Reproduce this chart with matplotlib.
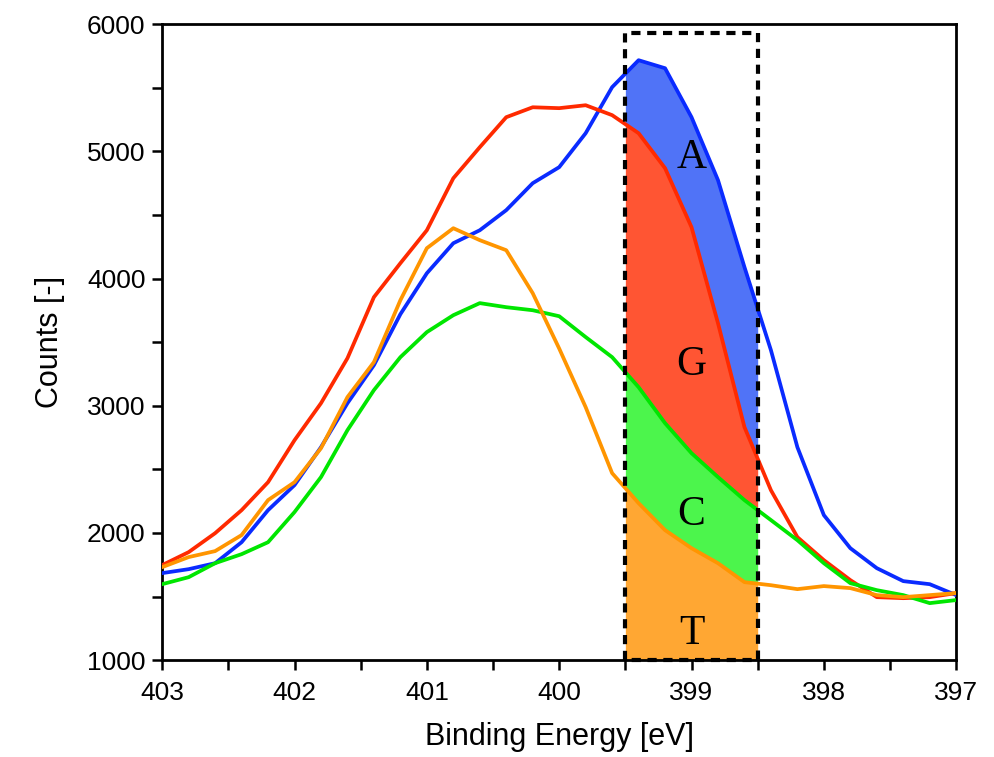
import numpy as np
import matplotlib.pyplot as plt
from matplotlib.ticker import MultipleLocator

# binding energy grid (eV), 0.2 eV steps
energy = [403.0, 402.8, 402.6, 402.4, 402.2, 402.0, 401.8, 401.6, 401.4, 401.2,
          401.0, 400.8, 400.6, 400.4, 400.2, 400.0, 399.8, 399.6, 399.4, 399.2,
          399.0, 398.8, 398.6, 398.4, 398.2, 398.0, 397.8, 397.6, 397.4, 397.2, 397.0]

counts_A = [1684, 1715, 1762, 1927, 2179, 2376, 2674, 3020, 3319, 3720,
            4042, 4278, 4380, 4538, 4750, 4876, 5143, 5505, 5717, 5654,
            5269, 4774, 4090, 3437, 2674, 2140, 1880, 1723, 1621, 1597, 1511]
counts_G = [1747, 1849, 1998, 2179, 2399, 2729, 3020, 3374, 3854, 4121,
            4380, 4789, 5033, 5269, 5347, 5340, 5363, 5285, 5143, 4868,
            4404, 3649, 2832, 2336, 1967, 1786, 1629, 1495, 1487, 1495, 1527]
counts_C = [1597, 1652, 1762, 1833, 1927, 2164, 2439, 2808, 3123, 3382,
            3579, 3712, 3807, 3775, 3751, 3704, 3540, 3382, 3146, 2863,
            2627, 2439, 2258, 2101, 1943, 1762, 1605, 1550, 1511, 1448, 1472]
counts_T = [1731, 1810, 1857, 1983, 2258, 2399, 2666, 3068, 3343, 3830,
            4239, 4396, 4302, 4223, 3885, 3450, 2989, 2470, 2234, 2022,
            1880, 1762, 1613, 1589, 1558, 1582, 1566, 1511, 1495, 1511, 1527]

window = [399.5, 398.5]
labels = ['A', 'G', 'C', 'T']
line_colors = ['#0a2bff', '#ff2a00', '#00e600', '#ff9500']
fill_colors = ['#5073f7', '#ff5533', '#4cf54c', '#ffa733']

sans = 'Liberation Sans'

fig = plt.figure(figsize=(9.95, 7.57), dpi=100)
ax = fig.add_axes([0.163, 0.128, 0.798, 0.840])

e = np.array(energy)
series = [np.array(counts_A), np.array(counts_G), np.array(counts_C), np.array(counts_T)]

# filled stack inside the dashed window
xs = np.linspace(window[1], window[0], 200)
ys = [np.interp(xs, e[::-1], s[::-1]) for s in series]
lower = [ys[1], ys[2], ys[3], np.full_like(xs, 1000.0)]
for i in range(4):
    ax.fill_between(xs, lower[i], ys[i], color=fill_colors[i], lw=0, zorder=1)

for s, c in zip(series, line_colors):
    ax.plot(e, s, color=c, lw=2.7, zorder=3)

# dashed window
ax.plot([window[0], window[0], window[1], window[1], window[0]],
        [1000, 5930, 5930, 1000, 1000], color='black', lw=3,
        ls=(0, (2.2, 1.6)), zorder=4, clip_on=False)

label_y = [4950, 3320, 2140, 1210]
for lab, y in zip(labels, label_y):
    ax.text(399.0, y, lab, fontsize=30, family='Liberation Serif',
            ha='center', va='center', zorder=5)

ax.set_xlim(403, 397)
ax.set_ylim(1000, 6000)
ax.xaxis.set_major_locator(MultipleLocator(1))
ax.xaxis.set_minor_locator(MultipleLocator(0.5))
ax.yaxis.set_major_locator(MultipleLocator(1000))
ax.yaxis.set_minor_locator(MultipleLocator(500))
ax.tick_params(which='both', direction='out', length=7, width=1.8,
               labelsize=19, top=False, right=False)
ax.tick_params(axis='x', pad=8)
ax.tick_params(axis='y', pad=5)
for t in ax.get_xticklabels() + ax.get_yticklabels():
    t.set_family(sans)
for sp in ax.spines.values():
    sp.set_linewidth(2)

ax.set_xlabel('Binding Energy [eV]', fontsize=22, family=sans, labelpad=12)
ax.set_ylabel('Counts [-]', fontsize=22, family=sans, labelpad=16)

fig.savefig('out.png', dpi=100)
